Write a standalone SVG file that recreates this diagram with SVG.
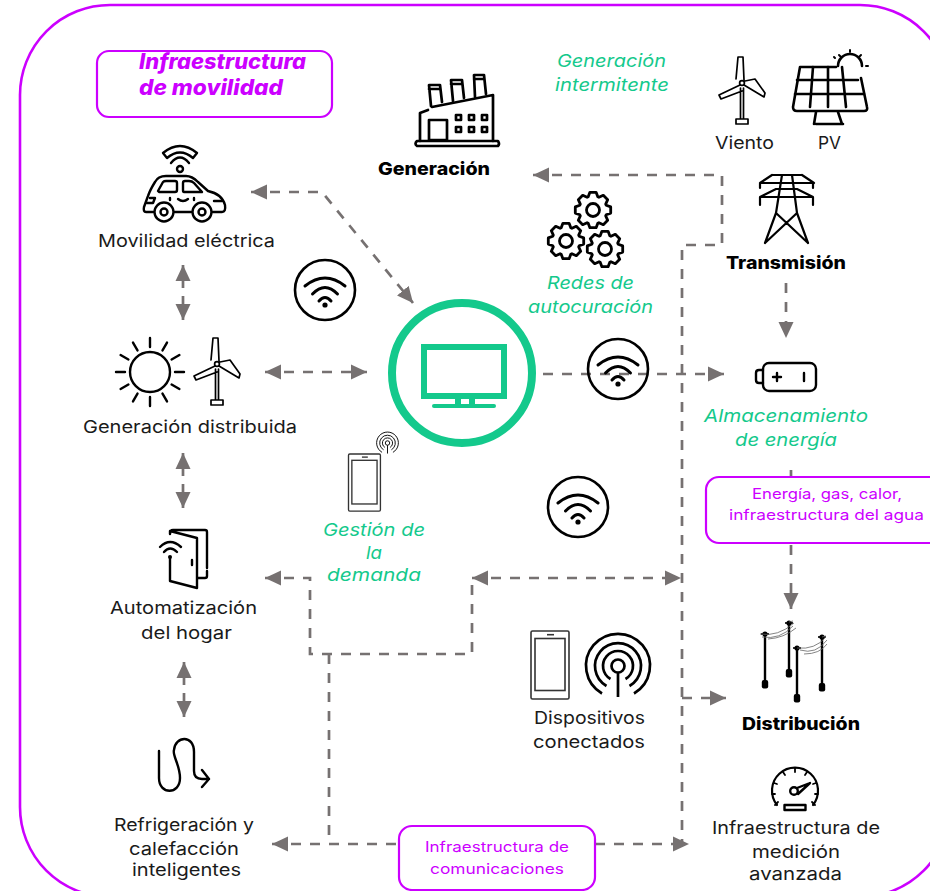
<svg xmlns="http://www.w3.org/2000/svg" xmlns:xlink="http://www.w3.org/1999/xlink" width="930" height="891" viewBox="0 0 930 891">
<style>
text{font-family:"Inter","Liberation Sans",sans-serif;font-size:17.5px;fill:#1a1a1a}
.b{font-weight:800;fill:#000}
.g{fill:#14c98c;font-style:italic}
.p{fill:#cc00ff;font-size:14.5px}
.t{fill:#cc00ff;font-style:italic;font-weight:800;font-size:21px}
.box{fill:#fff;stroke:#cc00ff;stroke-width:2.2}
.i{fill:none;stroke:#000;stroke-width:2.4;stroke-linecap:round;stroke-linejoin:round}
.c{fill:none;stroke:#767171;stroke-width:2.7;stroke-dasharray:10 9}
.m{marker-end:url(#a)}
.s{marker-start:url(#a)}
</style>
<defs>
<marker id="a" markerUnits="userSpaceOnUse" markerWidth="17" markerHeight="17" refX="16" refY="8" orient="auto-start-reverse"><path d="M0,0.5 L16,8 L0,15.5Z" fill="#767171"/></marker>
<g id="wifi"><circle r="30" fill="#fff" fill-opacity="0" stroke="#000" stroke-width="2.6"/><path d="M-20,-4 Q0,-20 20,-4M-12.500,4 Q0,-9 12.500,4M-6,11 Q0,4 6,11" fill="none" stroke="#000" stroke-width="3" stroke-linecap="round"/><circle cy="15" r="2.6"/></g>
<g id="turbine" class="i" style="stroke-width:1.7"><circle cx="0" cy="0" r="2.4"/><path d="M-6,-4L-4,-26H1L2,-3M3,-2L13,-4L23,10L22,14L2,2M-2,2L-23,12L-21,16L0,8M-1.500,5V36M1.500,5V36M-6,36H6V41H-6Z"/></g>
<path id="gear" d="M13.2,-4.8L17.7,-3.1L17.7,3.1L13.2,4.8L12.7,5.9L14.7,10.3L10.3,14.7L5.9,12.7L4.8,13.2L3.1,17.7L-3.1,17.7L-4.8,13.2L-5.9,12.7L-10.3,14.7L-14.7,10.3L-12.7,5.9L-13.2,4.8L-17.7,3.1L-17.7,-3.1L-13.2,-4.8L-12.7,-5.9L-14.7,-10.3L-10.3,-14.7L-5.9,-12.7L-4.8,-13.2L-3.1,-17.7L3.1,-17.7L4.8,-13.2L5.9,-12.7L10.3,-14.7L14.7,-10.3L12.7,-5.9ZM6.5,0A6.5,6.5 0 1 1 -6.5,0A6.5,6.5 0 1 1 6.5,0Z"/>
<g id="phone"><rect x="0" y="0" width="38" height="68" rx="1.5" fill="none" stroke="#333" stroke-width="1.6"/><rect x="4" y="7.5" width="30" height="52" fill="none" stroke="#333" stroke-width="1.6"/><path d="M16,3.7H23" stroke="#333" stroke-width="1.6"/></g>
<g id="radar" fill="none" stroke="#000" stroke-width="2.7"><circle r="6.5"/><path d="M0,6.5V31M-7.5,13A15,15 0 1 1 7.5,13M-11.5,20A23,23 0 1 1 11.5,20M-16,27.5A32,32 0 1 1 16,27.5"/></g>
<g id="pole"><path d="M0,0V48" stroke="#000" stroke-width="2.4"/><rect x="-3.2" y="46" width="6.4" height="8.5" rx="2"/><circle r="2.6"/><path d="M-4,0H4" stroke="#000" stroke-width="1.6"/></g>
</defs>

<rect id="frame" x="20" y="5" width="930" height="892" rx="90" fill="none" stroke="#cc00ff" stroke-width="2.6"/>

<g id="connectors">
<path class="c s" d="M251,192 H322 L413,303" style="marker-end:url(#a)"/>
<path class="c s m" d="M183,265 V320" style="stroke-dasharray:23 8 24"/>
<path class="c s m" d="M183,453 V508" style="stroke-dasharray:23 8 24"/>
<path class="c s m" d="M184,662 V717" style="stroke-dasharray:23 8 24"/>
<path class="c s m" d="M265,372 H367"/>
<path class="c m" d="M543,374 H724"/>
<path class="c s" d="M533,175 H722 V245 H682 V844"/>
<path class="c m" d="M682,698 H726"/>
<path class="c s" d="M265,578 H310 V654 H472 V578"/>
<path class="c s m" d="M472,578 H681"/>
<path class="c" d="M329,654 V843"/>
<path class="c s" d="M272,844 H400"/>
<path class="c m" d="M595,844 H689"/>
<path class="c m" d="M786,283 V338"/>
<path class="c" d="M791,470 V478"/>
<path class="c m" d="M791,545 V609"/>
</g>

<g id="infra-movilidad"><rect class="box" x="97" y="51" width="235" height="66" rx="12"/><text class="t" x="139" y="69" textLength="167" lengthAdjust="spacingAndGlyphs">Infraestructura</text><text class="t" x="139" y="95" textLength="144" lengthAdjust="spacingAndGlyphs">de movilidad</text></g>

<g id="movilidad"><g class="i">
<path d="M153,212H146Q143,212 144,207L148,196Q150,190 155,182Q158,176 166,176H186Q192,176 198,182L208,191Q222,194 225,205Q226,212 222,212H213M175,212H191"/>
<path d="M158,191L163,182Q164,181 166,181H175Q177,181 177,183V190Q177,192 175,192H159ZM183,183Q183,181 185,181H189Q192,181 194,183L202,192H184Q183,192 183,190Z"/>
<circle cx="164" cy="212" r="9.5"/><circle cx="164" cy="212" r="3.5"/><circle cx="202" cy="212" r="9.5"/><circle cx="202" cy="212" r="3.5"/>
<path d="M178,199Q183,203 188,199M170,198V200M194,198V200M150,198H155L153,203H147M222,201H214"/>
<path d="M163,153Q180,139 197,153L193,158Q180,147 167,158ZM171,163Q180,152 189,163"/>
<circle cx="180" cy="169" r="3"/></g>
<text x="98" y="247" textLength="177" lengthAdjust="spacingAndGlyphs">Movilidad eléctrica</text></g>

<g id="wifi-icons"><use href="#wifi" x="325" y="290"/><use href="#wifi" x="618" y="369"/><use href="#wifi" x="578" y="507"/></g>

<g id="centro"><circle cx="462" cy="373" r="70" fill="none" stroke="#14c98c" stroke-width="8"/>
<rect x="424" y="347" width="80" height="49" fill="none" stroke="#14c98c" stroke-width="6"/>
<path d="M458,398V405M472,398V405" stroke="#14c98c" stroke-width="6"/>
<path d="M434,406H494" stroke="#14c98c" stroke-width="4" stroke-linecap="round"/></g>

<g id="generacion"><g class="i" style="stroke-width:2.7">
<path d="M417,141H498Q500,144 498,146H417Q414,144 417,141Z"/>
<path d="M420,141V113L428,110M432,107L493,95V141"/>
<path d="M429,120H447V140H429ZM431,106L429,85H440L442,102M453,101L451,80H462L464,98M475,97L474,75H484L486,94M429,89H440M451,84H462M474,79H484"/>
<path d="M456,115h5v5h-5zM469,115h5v5h-5zM482,115h5v5h-5zM456,127h5v5h-5zM469,127h5v5h-5zM482,127h5v5h-5z"/></g>
<text class="b" x="378" y="175" textLength="112" lengthAdjust="spacingAndGlyphs">Generación</text></g>

<g id="gen-intermitente"><text class="g" x="557" y="67" textLength="109" lengthAdjust="spacingAndGlyphs">Generación</text><text class="g" x="555" y="91" textLength="114" lengthAdjust="spacingAndGlyphs">intermitente</text></g>

<g id="viento"><use href="#turbine" x="742" y="83"/><text x="715" y="149" textLength="59" lengthAdjust="spacingAndGlyphs">Viento</text></g>

<g id="pv"><g class="i" style="stroke-width:2.6">
<path d="M836,67H800L793,107Q793,111 797,111H864Q868,111 867,107L861,78"/>
<path d="M797,80H858M795,94H864M813,67L810,107M828,67L828,107M842,67L846,107M816,112L814,124M838,112L842,124M816,124H843"/>
<path d="M838,66A12,12 0 0 1 862,66"/>
<path d="M850,50V52M839,55L841,57M861,55L859,57M866,66H868M834,57L835,58" stroke-width="2"/></g>
<text x="818" y="149" textLength="23" lengthAdjust="spacingAndGlyphs">PV</text></g>

<g id="transmision"><g class="i" style="stroke-width:2.2">
<path d="M782,175L776,213L765,243M792,175L797,213L808,243M776,213L808,243M797,213L765,243M772,175H802M760,183L772,175M814,183L802,175M760,183H813M760,183V188M813,183V188M760,197H813L797,189H776ZM760,197V205M813,197V205"/>
</g>
<text class="b" x="726" y="269" textLength="120" lengthAdjust="spacingAndGlyphs">Transmisión</text></g>

<g id="redes"><g class="i" style="stroke-width:2.8"><use href="#gear" x="593" y="210"/><use href="#gear" x="566" y="241"/><use href="#gear" x="605" y="249"/></g>
<text class="g" x="547" y="289" textLength="87" lengthAdjust="spacingAndGlyphs">Redes de</text><text class="g" x="528" y="313" textLength="125" lengthAdjust="spacingAndGlyphs">autocuración</text></g>

<g id="almacenamiento"><g class="i"><rect x="763" y="363" width="53" height="28" rx="6"/><path d="M763,370H759Q756,370 756,373V380Q756,383 759,383H763M773,377H781M777,373V381M804,373V381"/></g>
<text class="g" x="704" y="422" textLength="164" lengthAdjust="spacingAndGlyphs">Almacenamiento</text><text class="g" x="735" y="446" textLength="102" lengthAdjust="spacingAndGlyphs">de energía</text></g>

<g id="infra-energia"><rect class="box" x="706" y="477" width="260" height="66" rx="13"/><text class="p" x="752" y="499" textLength="150" lengthAdjust="spacingAndGlyphs">Energía, gas, calor,</text><text class="p" x="729" y="520" textLength="195" lengthAdjust="spacingAndGlyphs">infraestructura del agua</text></g>

<g id="gen-distribuida"><g class="i"><circle cx="150" cy="372" r="20"/>
<path d="M150,347V338M150,397V406M125,372H116M175,372H184M137.500,350.400L133,342.600M162.500,350.400L167,342.600M137.500,393.600L133,401.400M162.500,393.600L167,401.400M128.400,359.500L120.600,355M171.600,359.500L179.400,355M128.400,384.500L120.600,389M171.600,384.500L179.400,389"/></g>
<use href="#turbine" x="217" y="364"/>
<text x="83" y="433" textLength="214" lengthAdjust="spacingAndGlyphs">Generación distribuida</text></g>

<g id="gestion"><use href="#phone" transform="translate(348.500,454) scale(.84)"/><use href="#radar" transform="translate(387.500,443) scale(.34)"/>
<text class="g" x="323" y="536" textLength="102" lengthAdjust="spacingAndGlyphs">Gestión de</text><text class="g" x="366" y="559" textLength="16" lengthAdjust="spacingAndGlyphs">la</text><text class="g" x="327" y="581" textLength="94" lengthAdjust="spacingAndGlyphs">demanda</text></g>

<g id="automatizacion"><g class="i">
<path d="M170,558V581L197,588V538L170,531V534Q170,530 173,530H205Q207,530 207,532V568M207,571V576Q207,578 205,578H198M192,560V565"/>
<path d="M160,547Q170,537 181,547M164,552Q170,545 177,552"/></g><circle cx="170" cy="557" r="2"/>
<text x="110" y="614" textLength="147" lengthAdjust="spacingAndGlyphs">Automatización</text><text x="141" y="639" textLength="91" lengthAdjust="spacingAndGlyphs">del hogar</text></g>

<g id="refrigeracion"><path class="i" d="M159,751V778C159,795 180,795 180,778C180,765 172,755 174,750C175,736 194,734 194,752V771Q194,779 202,779H209M202,770L209,779L202,787"/>
<text x="114" y="831" textLength="140" lengthAdjust="spacingAndGlyphs">Refrigeración y</text><text x="129" y="855" textLength="110" lengthAdjust="spacingAndGlyphs">calefacción</text><text x="132" y="876" textLength="109" lengthAdjust="spacingAndGlyphs">inteligentes</text></g>

<g id="dispositivos"><use href="#phone" x="531" y="631"/><use href="#radar" x="618" y="666"/>
<text x="534" y="724" textLength="111" lengthAdjust="spacingAndGlyphs">Dispositivos</text><text x="533" y="748" textLength="112" lengthAdjust="spacingAndGlyphs">conectados</text></g>

<g id="distribucion"><use href="#pole" x="765" y="634"/><use href="#pole" x="789" y="623"/><use href="#pole" x="797" y="648"/><use href="#pole" x="822" y="637"/>
<path d="M760,634Q778,637 794,623M762,637Q780,640 793,626M768,639Q784,638 796,628M797,648Q815,650 826,637M800,650Q816,655 827,640M804,654Q820,654 827,644M789,622L793,621M822,637L826,636" fill="none" stroke="#666" stroke-width=".8"/>
<text class="b" x="742" y="730" textLength="118" lengthAdjust="spacingAndGlyphs">Distribución</text></g>

<g id="medicion"><g class="i">
<path d="M777,805A23,23 0 1 1 813,805" style="stroke-width:2.2"/>
<path d="M795,768V772M783,772L785,775M807,772L805,775M774,783L777,784M816,783L813,784M772,794H775M818,794H815M775,805L778,802M815,805L812,802" style="stroke-width:1.8"/>
<circle cx="794" cy="791" r="3.800"/><path d="M797,788L810,783L798,794"/><rect x="784.500" y="805" width="21" height="5"/></g>
<text x="712" y="834" textLength="168" lengthAdjust="spacingAndGlyphs">Infraestructura de</text><text x="752" y="858" textLength="88" lengthAdjust="spacingAndGlyphs">medición</text><text x="749" y="880" textLength="93" lengthAdjust="spacingAndGlyphs">avanzada</text></g>

<g id="infra-comunicaciones"><rect class="box" x="399" y="826" width="196" height="64" rx="13"/><text class="p" x="425" y="852" textLength="144" lengthAdjust="spacingAndGlyphs">Infraestructura de</text><text class="p" x="430" y="874" textLength="134" lengthAdjust="spacingAndGlyphs">comunicaciones</text></g>
</svg>
